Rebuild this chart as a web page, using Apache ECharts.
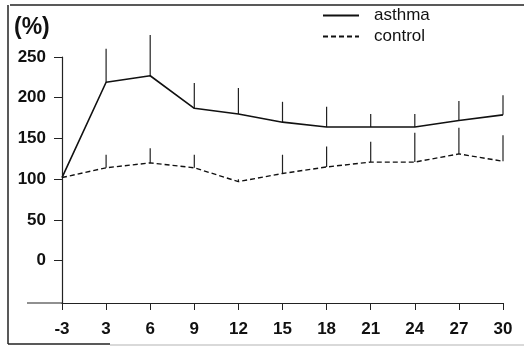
<!DOCTYPE html>
<html>
<head>
<meta charset="utf-8">
<script src="https://cdn.jsdelivr.net/npm/echarts@6/dist/echarts.min.js"></script>
<style>
  html, body { margin: 0; padding: 0; background: #fff; }
  #chart { width: 524px; height: 347px; }
</style>
</head>
<body>
<div id="chart"></div>
<script>
// weeks (category axis, evenly spaced)
var weeks = ['-3', '3', '6', '9', '12', '15', '18', '21', '24', '27', '30'];
var asthma = [102, 219, 227, 187, 180, 170, 164, 164, 164, 172, 179];
var asthmaErr = [0, 41, 50, 31, 32, 25, 25, 16, 16, 24, 24];
var control = [102, 114, 120, 114, 97, 107, 115, 121, 121, 131, 122];
var controlErr = [0, 16, 18, 16, 3, 23, 25, 25, 36, 32, 32];
var yTicks = [0, 50, 100, 150, 200, 250];

function errData(mean, err) {
  return mean.map(function (m, i) { return [i, m, m + err[i]]; });
}

function renderErr(params, api) {
  var lo = api.coord([api.value(0), api.value(1)]);
  var hi = api.coord([api.value(0), api.value(2)]);
  if (lo[1] - hi[1] < 0.5) return;
  return {
    type: 'line',
    shape: { x1: lo[0], y1: lo[1], x2: hi[0], y2: hi[1] },
    style: { stroke: '#222', lineWidth: 1.2 }
  };
}

var chartDom = document.getElementById('chart');
var myChart = echarts.init(chartDom);
var font = 'Liberation Sans';
var option = {
  animation: false,
  grid: { left: 62, right: 21, top: 57, bottom: 44 },
  legend: {
    data: ['asthma', 'control'],
    orient: 'vertical',
    left: 322,
    top: 7,
    padding: 0,
    itemWidth: 36,
    itemHeight: 10,
    itemGap: 4,
    itemStyle: { opacity: 0 },
    textStyle: { fontFamily: font, fontSize: 17, color: '#111', padding: [0, 0, 0, 10] }
  },
  xAxis: {
    type: 'category',
    data: weeks,
    boundaryGap: false,
    axisLine: { onZero: false, lineStyle: { color: '#222', width: 1.2 } },
    axisTick: { length: 7, inside: false, lineStyle: { color: '#222' } },
    axisLabel: { margin: 18, fontFamily: font, fontWeight: 'bold', fontSize: 17, color: '#111', interval: 0 },
    splitLine: { show: false }
  },
  yAxis: {
    type: 'value',
    min: -52,
    max: 250,
    axisLine: { show: true, lineStyle: { color: '#222', width: 1.2 } },
    axisTick: { show: true, length: 8, customValues: yTicks, lineStyle: { color: '#222' } },
    axisLabel: { margin: 16, customValues: yTicks, fontFamily: font, fontWeight: 'bold', fontSize: 17, color: '#111' },
    splitLine: { show: false }
  },
  graphic: [
    { type: 'text', left: 14, top: 16, style: { text: '(%)', font: 'bold 23px Liberation Sans', fill: '#111' } },
    { type: 'line', shape: { x1: 27, y1: 303, x2: 62, y2: 303 }, style: { stroke: '#222', lineWidth: 1.2 } },
    { type: 'line', shape: { x1: 10, y1: 5, x2: 524, y2: 5 }, style: { stroke: '#222', lineWidth: 1.5 } },
    { type: 'line', shape: { x1: 8, y1: 5, x2: 8, y2: 344 }, style: { stroke: '#222', lineWidth: 1.5 } },
    { type: 'line', shape: { x1: 8, y1: 344, x2: 110, y2: 344 }, style: { stroke: '#222', lineWidth: 1.5 } },
    { type: 'line', shape: { x1: 110, y1: 345, x2: 524, y2: 345 }, style: { stroke: '#ccc', lineWidth: 1.5 } }
  ],
  series: [
    {
      name: 'asthma',
      type: 'line',
      data: asthma,
      symbol: 'none',
      lineStyle: { color: '#111', width: 1.6 },
      itemStyle: { color: '#111' },
      z: 3
    },
    {
      name: 'control',
      type: 'line',
      data: control,
      symbol: 'none',
      lineStyle: { color: '#111', width: 1.4, type: [5, 3] },
      itemStyle: { color: '#111' },
      z: 3
    },
    {
      name: 'asthmaErr',
      type: 'custom',
      data: errData(asthma, asthmaErr),
      renderItem: renderErr,
      z: 2
    },
    {
      name: 'controlErr',
      type: 'custom',
      data: errData(control, controlErr),
      renderItem: renderErr,
      z: 2
    }
  ]
};
myChart.setOption(option);
window.addEventListener('resize', function () {
  myChart.resize();
});
</script>
</body>
</html>
